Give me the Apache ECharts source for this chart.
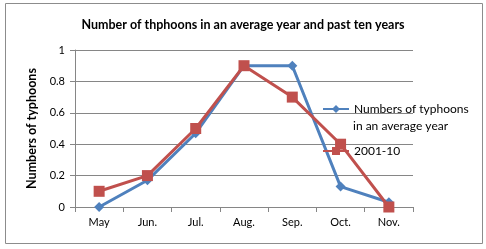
<!DOCTYPE html>
<html>
<head>
<meta charset="utf-8">
<script src="https://cdn.jsdelivr.net/npm/echarts@6/dist/echarts.min.js"></script>
<style>
  html, body { margin: 0; padding: 0; background: #fff; }
  #chart { width: 486px; height: 249px; }
</style>
</head>
<body>
<div id="chart"></div>
<script>
var months = ['May', 'Jun.', 'Jul.', 'Aug.', 'Sep.', 'Oct.', 'Nov.'];
var averageYear = [0, 0.17, 0.47, 0.9, 0.9, 0.13, 0.03];
var past10 = [0.1, 0.2, 0.5, 0.9, 0.7, 0.4, 0];
var yTicks = [0, 0.2, 0.4, 0.6, 0.8, 1];

var chart = echarts.init(document.getElementById('chart'));

var font = 'Lato, "Liberation Sans", sans-serif';

option = {
    animation: false,
    textStyle: { fontFamily: font },
    title: {
        text: 'Number of thphoons in an average year and past ten years',
        left: 'center',
        top: 13,
        textStyle: { fontSize: 12.5, fontWeight: 'bold', color: '#000', fontFamily: font }
    },
    graphic: [{
        type: 'rect',
        shape: { x: 5.5, y: 3.5, width: 477, height: 240 },
        style: { fill: 'none', stroke: '#8c8c8c', lineWidth: 1 },
        silent: true
    }, {
        // second line of the first legend entry (Excel wraps it under the text)
        type: 'text',
        left: 353,
        top: 120,
        style: { text: 'in an average year', fill: '#000', font: '12px ' + font },
        silent: true
    }],
    grid: { left: 75, right: 73, top: 50, bottom: 42 },
    legend: {
        orient: 'vertical',
        left: 317,
        top: 98,
        itemWidth: 26,
        itemHeight: 10,
        itemGap: 30,
        textStyle: { fontSize: 12, color: '#000', fontFamily: font },
        formatter: function (name) {
            return name === 'Numbers of typhoons in an average year'
                ? 'Numbers of typhoons' : name;
        },
        data: ['Numbers of typhoons in an average year', '2001-10']
    },
    xAxis: {
        type: 'category',
        data: months,
        boundaryGap: true,
        axisLine: { lineStyle: { color: '#868686' } },
        axisTick: { show: true, length: 5, lineStyle: { color: '#868686' } },
        axisLabel: { color: '#000', fontSize: 11, margin: 10 }
    },
    yAxis: {
        type: 'value',
        min: 0,
        max: 1,
        interval: 0.2,
        name: 'Numbers of typhoons',
        nameLocation: 'middle',
        nameGap: 29,
        nameTextStyle: { fontSize: 12.5, fontWeight: 'bold', color: '#000', fontFamily: font },
        axisLine: { show: true, lineStyle: { color: '#868686' } },
        axisTick: { show: true, length: 5, lineStyle: { color: '#868686' } },
        splitLine: { lineStyle: { color: '#868686' } },
        axisLabel: {
            color: '#000', fontSize: 11, margin: 10,
            formatter: function (v) {
                return yTicks.indexOf(+v.toFixed(1)) >= 0 ? String(+v.toFixed(1)) : '';
            }
        }
    },
    series: [
        {
            name: 'Numbers of typhoons in an average year',
            type: 'line',
            data: averageYear,
            symbol: 'diamond',
            symbolSize: 10,
            lineStyle: { color: '#4F81BD', width: 3 },
            itemStyle: { color: '#4F81BD' },
            z: 2
        },
        {
            name: '2001-10',
            type: 'line',
            data: past10,
            symbol: 'rect',
            symbolSize: 11,
            lineStyle: { color: '#C0504D', width: 3 },
            itemStyle: { color: '#C0504D' },
            z: 3
        }
    ]
};

chart.setOption(option);
</script>
</body>
</html>
